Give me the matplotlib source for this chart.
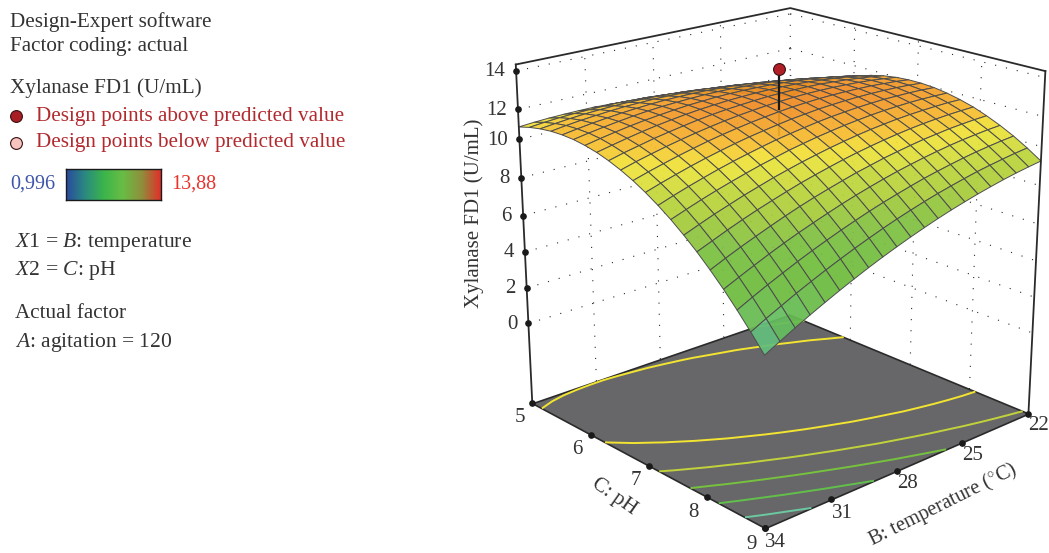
import numpy as np
import matplotlib
matplotlib.use('Agg')
import matplotlib.pyplot as plt
from matplotlib.colors import LinearSegmentedColormap, Normalize
from mpl_toolkits.mplot3d import proj3d
from mpl_toolkits.mplot3d.art3d import Poly3DCollection

plt.rcParams['font.family'] = ['Liberation Serif', 'DejaVu Serif']
plt.rcParams['mathtext.fontset'] = 'custom'
plt.rcParams['mathtext.rm'] = 'Liberation Serif'
plt.rcParams['mathtext.it'] = 'Liberation Serif:italic'

# surface (rows = pH, columns = temperature)
temp = [22, 22.6, 23.2, 23.8, 24.4, 25, 25.6, 26.2, 26.8, 27.4, 28,
        28.6, 29.2, 29.8, 30.4, 31, 31.6, 32.2, 32.8, 33.4, 34]
ph = [5, 5.2, 5.4, 5.6, 5.8, 6, 6.2, 6.4, 6.6, 6.8, 7,
      7.2, 7.4, 7.6, 7.8, 8, 8.2, 8.4, 8.6, 8.8, 9]
xylanase = [
    [8.85, 9.10, 9.33, 9.54, 9.74, 9.93, 10.09, 10.24, 10.38, 10.50, 10.60, 10.69, 10.76, 10.81, 10.85, 10.88, 10.88, 10.87, 10.85, 10.81, 10.75],
    [9.37, 9.60, 9.81, 10.01, 10.19, 10.36, 10.51, 10.64, 10.76, 10.87, 10.95, 11.02, 11.08, 11.11, 11.14, 11.14, 11.13, 11.11, 11.07, 11.01, 10.93],
    [9.84, 10.05, 10.25, 10.43, 10.59, 10.74, 10.88, 10.99, 11.09, 11.18, 11.25, 11.30, 11.34, 11.36, 11.37, 11.36, 11.33, 11.29, 11.23, 11.15, 11.06],
    [10.25, 10.45, 10.63, 10.79, 10.94, 11.07, 11.19, 11.29, 11.37, 11.44, 11.49, 11.53, 11.55, 11.56, 11.54, 11.52, 11.47, 11.41, 11.34, 11.25, 11.14],
    [10.61, 10.79, 10.96, 11.10, 11.24, 11.35, 11.45, 11.53, 11.60, 11.65, 11.69, 11.71, 11.71, 11.70, 11.67, 11.62, 11.56, 11.48, 11.39, 11.28, 11.16],
    [10.93, 11.09, 11.23, 11.36, 11.48, 11.58, 11.66, 11.72, 11.77, 11.81, 11.83, 11.83, 11.81, 11.78, 11.74, 11.68, 11.60, 11.50, 11.39, 11.27, 11.13],
    [11.18, 11.33, 11.46, 11.57, 11.67, 11.75, 11.81, 11.86, 11.89, 11.91, 11.91, 11.90, 11.86, 11.82, 11.75, 11.67, 11.58, 11.47, 11.34, 11.20, 11.04],
    [11.39, 11.52, 11.63, 11.73, 11.80, 11.87, 11.92, 11.95, 11.96, 11.96, 11.94, 11.91, 11.86, 11.80, 11.72, 11.62, 11.51, 11.38, 11.23, 11.07, 10.90],
    [11.55, 11.66, 11.75, 11.83, 11.89, 11.94, 11.97, 11.98, 11.98, 11.96, 11.92, 11.87, 11.81, 11.73, 11.63, 11.51, 11.38, 11.24, 11.07, 10.90, 10.70],
    [11.65, 11.74, 11.82, 11.88, 11.92, 11.95, 11.96, 11.96, 11.94, 11.90, 11.85, 11.78, 11.70, 11.60, 11.48, 11.35, 11.20, 11.04, 10.86, 10.67, 10.45],
    [11.70, 11.78, 11.83, 11.88, 11.90, 11.91, 11.91, 11.89, 11.85, 11.80, 11.73, 11.64, 11.54, 11.42, 11.29, 11.14, 10.97, 10.79, 10.59, 10.38, 10.15],
    [11.70, 11.76, 11.80, 11.82, 11.83, 11.82, 11.80, 11.76, 11.71, 11.63, 11.55, 11.44, 11.32, 11.19, 11.04, 10.87, 10.69, 10.49, 10.27, 10.04, 9.79],
    [11.65, 11.69, 11.71, 11.71, 11.71, 11.68, 11.64, 11.58, 11.51, 11.42, 11.31, 11.19, 11.06, 10.90, 10.73, 10.55, 10.35, 10.13, 9.90, 9.65, 9.38],
    [11.54, 11.56, 11.57, 11.56, 11.53, 11.49, 11.43, 11.35, 11.26, 11.15, 11.03, 10.89, 10.74, 10.56, 10.38, 10.17, 9.95, 9.72, 9.47, 9.20, 8.92],
    [11.38, 11.39, 11.37, 11.34, 11.30, 11.24, 11.16, 11.07, 10.96, 10.83, 10.69, 10.53, 10.36, 10.17, 9.97, 9.74, 9.51, 9.25, 8.99, 8.70, 8.40],
    [11.18, 11.16, 11.13, 11.08, 11.02, 10.94, 10.84, 10.73, 10.60, 10.46, 10.30, 10.12, 9.93, 9.73, 9.50, 9.26, 9.01, 8.74, 8.45, 8.14, 7.83],
    [10.91, 10.88, 10.83, 10.77, 10.68, 10.59, 10.47, 10.34, 10.20, 10.03, 9.86, 9.66, 9.45, 9.23, 8.99, 8.73, 8.45, 8.16, 7.86, 7.54, 7.20],
    [10.60, 10.55, 10.48, 10.40, 10.30, 10.18, 10.05, 9.90, 9.74, 9.56, 9.36, 9.15, 8.92, 8.67, 8.41, 8.14, 7.85, 7.54, 7.21, 6.87, 6.52],
    [10.24, 10.17, 10.08, 9.98, 9.86, 9.72, 9.57, 9.41, 9.22, 9.02, 8.81, 8.58, 8.33, 8.07, 7.79, 7.50, 7.19, 6.86, 6.52, 6.16, 5.78],
    [9.82, 9.73, 9.62, 9.50, 9.37, 9.21, 9.04, 8.86, 8.66, 8.44, 8.21, 7.96, 7.69, 7.41, 7.11, 6.80, 6.47, 6.13, 5.76, 5.39, 4.99],
    [9.35, 9.24, 9.12, 8.98, 8.82, 8.65, 8.46, 8.26, 8.04, 7.80, 7.55, 7.28, 7.00, 6.70, 6.38, 6.05, 5.70, 5.34, 4.96, 4.56, 4.15],
]
# ticks in the picture are evenly spaced on the page, so they sit a bit off the round values
temp_tick_labels = ['22', '25', '28', '31', '34']
temp_tick_pos = [22, 25.33, 28.36, 31.25, 34]
ph_tick_labels = ['5', '6', '7', '8', '9']
ph_tick_pos = [5, 6.11, 7.14, 8.1, 9]
z_tick_labels = ['0', '2', '4', '6', '8', '10', '12', '14']
z_tick_pos = [0, 2, 4, 6, 8.05, 10.1, 11.67, 13.67]
design_temp, design_ph, design_z = 28, 7, 13.95
contour_levels = [5.4, 6.9, 8.3, 9.55, 10.92]
contour_colors = ['#6cc8a0', '#62c04a', '#76c23e', '#c2d23a', '#f2e430']

z_floor, z_top = -4.6, 14.0

X, Y = np.meshgrid(temp, ph)
Z = np.array(xylanase)

surf_stops = [4.1, 4.9, 5.8, 6.9, 7.8, 8.45, 9.26, 9.97, 10.56, 10.9, 11.2, 11.5, 11.75, 11.98]
surf_cols = ['#62c6c4', '#62c0a0', '#64bd5a', '#6cbb3c', '#74bf3e', '#80c040', '#a8cc3a', '#c0d63a',
             '#e6e23a', '#f2de36', '#f6c02e', '#f5ac2a', '#f29a28', '#ef8a22']
norm = Normalize(surf_stops[0], surf_stops[-1])
surf_cmap = LinearSegmentedColormap.from_list('surf', [(norm(s), c) for s, c in zip(surf_stops, surf_cols)])

fig = plt.figure(figsize=(10.49, 5.53), dpi=100)
ax = fig.add_axes([460.5 / 1049, -9 / 553, 620 / 1049, 620 / 553], projection='3d')
ax.set_proj_type('persp', focal_length=0.567)
ax.view_init(elev=20, azim=47.8)
ax.set_box_aspect((1.082, 1.082, 1.08), zoom=0.983)
ax.set_xlim(22, 34)
ax.set_ylim(5, 9)
ax.set_zlim(z_floor, z_top)
ax.set_axis_off()
ax.patch.set_alpha(0)
ax.computed_zorder = False

dark = '#2a2a2a'
dots = (0, (1, 9))

# dotted grid on the two back walls
for z in z_tick_pos:
    ax.plot([34, 22], [5, 5], [z, z], color=dark, lw=0.8, ls=dots, zorder=1)
    ax.plot([22, 22], [5, 9], [z, z], color=dark, lw=0.8, ls=dots, zorder=1)
for t in temp_tick_pos[:-1]:
    ax.plot([t, t], [5, 5], [z_floor, z_top], color=dark, lw=0.8, ls=dots, zorder=1)
for p in ph_tick_pos[1:-1]:
    ax.plot([22, 22], [p, p], [z_floor, z_top], color=dark, lw=0.8, ls=dots, zorder=1)

# floor
floor = [[(34, 5, z_floor), (34, 9, z_floor), (22, 9, z_floor), (22, 5, z_floor)]]
ax.add_collection3d(Poly3DCollection(floor, facecolors='#67676a', edgecolors=dark, linewidths=1.2, zorder=2))
ax.contour(X, Y, Z, levels=contour_levels, zdir='z', offset=z_floor, colors=contour_colors, linewidths=1.4, zorder=3)

# frame
ax.plot([34, 34], [5, 5], [z_floor, z_top], color=dark, lw=1.3, zorder=5)
ax.plot([22, 22], [9, 9], [z_floor, z_top], color=dark, lw=1.3, zorder=5)
ax.plot([34, 22, 22], [5, 5, 9], [z_top, z_top, z_top], color=dark, lw=1.3, zorder=5)

# stem runs on behind the slightly see-through surface
ax.plot([design_temp] * 2, [design_ph] * 2, [10.5, 11.9], color='#1a1a1a', lw=1.6, zorder=3.5)

# response surface
ax.plot_surface(X, Y, Z, rstride=1, cstride=1, facecolors=surf_cmap(norm(Z)), shade=False,
                edgecolor='#4d4d4d', linewidth=0.7, alpha=0.93, zorder=4)

# design point
ax.plot([design_temp] * 2, [design_ph] * 2, [11.9, design_z], color='#1a1a1a', lw=1.6, zorder=6)
ax.plot([design_temp], [design_ph], [design_z], 'o', ms=8.5, mfc='#b01e26', mec='#3a1010', mew=0.8, zorder=7)

# ticks
ax.plot([34] * len(ph_tick_pos), ph_tick_pos, [z_floor] * len(ph_tick_pos), 'o', ms=3.8, color='#1a1a1a', zorder=6)
ax.plot(temp_tick_pos, [9] * len(temp_tick_pos), [z_floor] * len(temp_tick_pos), 'o', ms=3.8, color='#1a1a1a', zorder=6)
ax.plot([34] * len(z_tick_pos), [5] * len(z_tick_pos), z_tick_pos, 'o', ms=3.8, color='#1a1a1a', zorder=6)

# flat overlay in pixel units for the legend, tick labels and rotated axis titles
ov = fig.add_axes([0, 0, 1, 1])
ov.set_xlim(0, 1049)
ov.set_ylim(553, 0)
ov.axis('off')
ov.patch.set_alpha(0)

txt = '#333333'


def label3d(x, y, z, s, ha='center', dy=0):
    xp, yp, _ = proj3d.proj_transform(x, y, z, ax.get_proj())
    px, py = ax.transData.transform((xp, yp))
    ov.text(px, 553 - py + dy, s, fontsize=15, color=txt, ha=ha, va='center')


ax.apply_aspect()
for p, s in zip(ph_tick_pos, ph_tick_labels):
    label3d(34.55, p, z_floor - 0.55, s)
for t, s in zip(temp_tick_pos, temp_tick_labels):
    label3d(t, 9.16, z_floor - 0.45, s)
for z, s in zip(z_tick_pos, z_tick_labels):
    label3d(34.27, 4.914, z, s, ha='right', dy=1)

ov.text(474, 213, 'Xylanase FD1 (U/mL)', fontsize=15, color=txt, rotation=90, ha='center', va='center')
ov.text(614, 497, 'C: pH', fontsize=15, color=txt, rotation=-35, ha='center', va='center')
ov.text(943, 505, 'B: temperature ($^{\\circ}$C)', fontsize=14.8, color=txt, rotation=26.5, ha='center', va='center')

ov.text(10, 22, 'Design-Expert software', fontsize=15.2, color=txt, va='center')
ov.text(10, 46, 'Factor coding: actual', fontsize=15.2, color=txt, va='center')
ov.text(10, 88, 'Xylanase FD1 (U/mL)', fontsize=15.2, color=txt, va='center')
ov.text(36, 116, 'Design points above predicted value', fontsize=15.2, color='#b22a2e', va='center')
ov.text(36, 143, 'Design points below predicted value', fontsize=15.2, color='#b22a2e', va='center')
ov.plot([16], [116], 'o', ms=8.5, mfc='#a81e24', mec='#3a1010', mew=0.8)
ov.plot([16], [143], 'o', ms=8.5, mfc='#f8c4c0', mec='#3a1010', mew=0.8)
ov.text(10, 184, '0,996', fontsize=14.5, color='#3c55a8', va='center')
ov.text(171, 184, '13,88', fontsize=14.5, color='#e8332c', va='center')
ov.text(15, 242, '$\\mathit{X}$1 = $\\mathit{B}$: temperature', fontsize=15.6, color=txt, va='center')
ov.text(15, 270, '$\\mathit{X}$2 = $\\mathit{C}$: pH', fontsize=15.6, color=txt, va='center')
ov.text(15, 314, 'Actual factor', fontsize=15.2, color=txt, va='center')
ov.text(15, 342, '$\\mathit{A}$: agitation = 120', fontsize=15.5, color=txt, va='center')

bar_cmap = LinearSegmentedColormap.from_list('bar', ['#2a4a9e', '#2a8a80', '#3cb54a', '#68bd45', '#8f8f3c', '#e0302a'])
cax = fig.add_axes([66 / 1049, 1 - 200 / 553, 95 / 1049, 31 / 553])
cax.imshow(np.linspace(0, 1, 128).reshape(1, -1), aspect='auto', cmap=bar_cmap)
cax.set_xticks([])
cax.set_yticks([])
for s in cax.spines.values():
    s.set_linewidth(1.0)
    s.set_color('#1a1a1a')

fig.savefig('out.png', dpi=100)
